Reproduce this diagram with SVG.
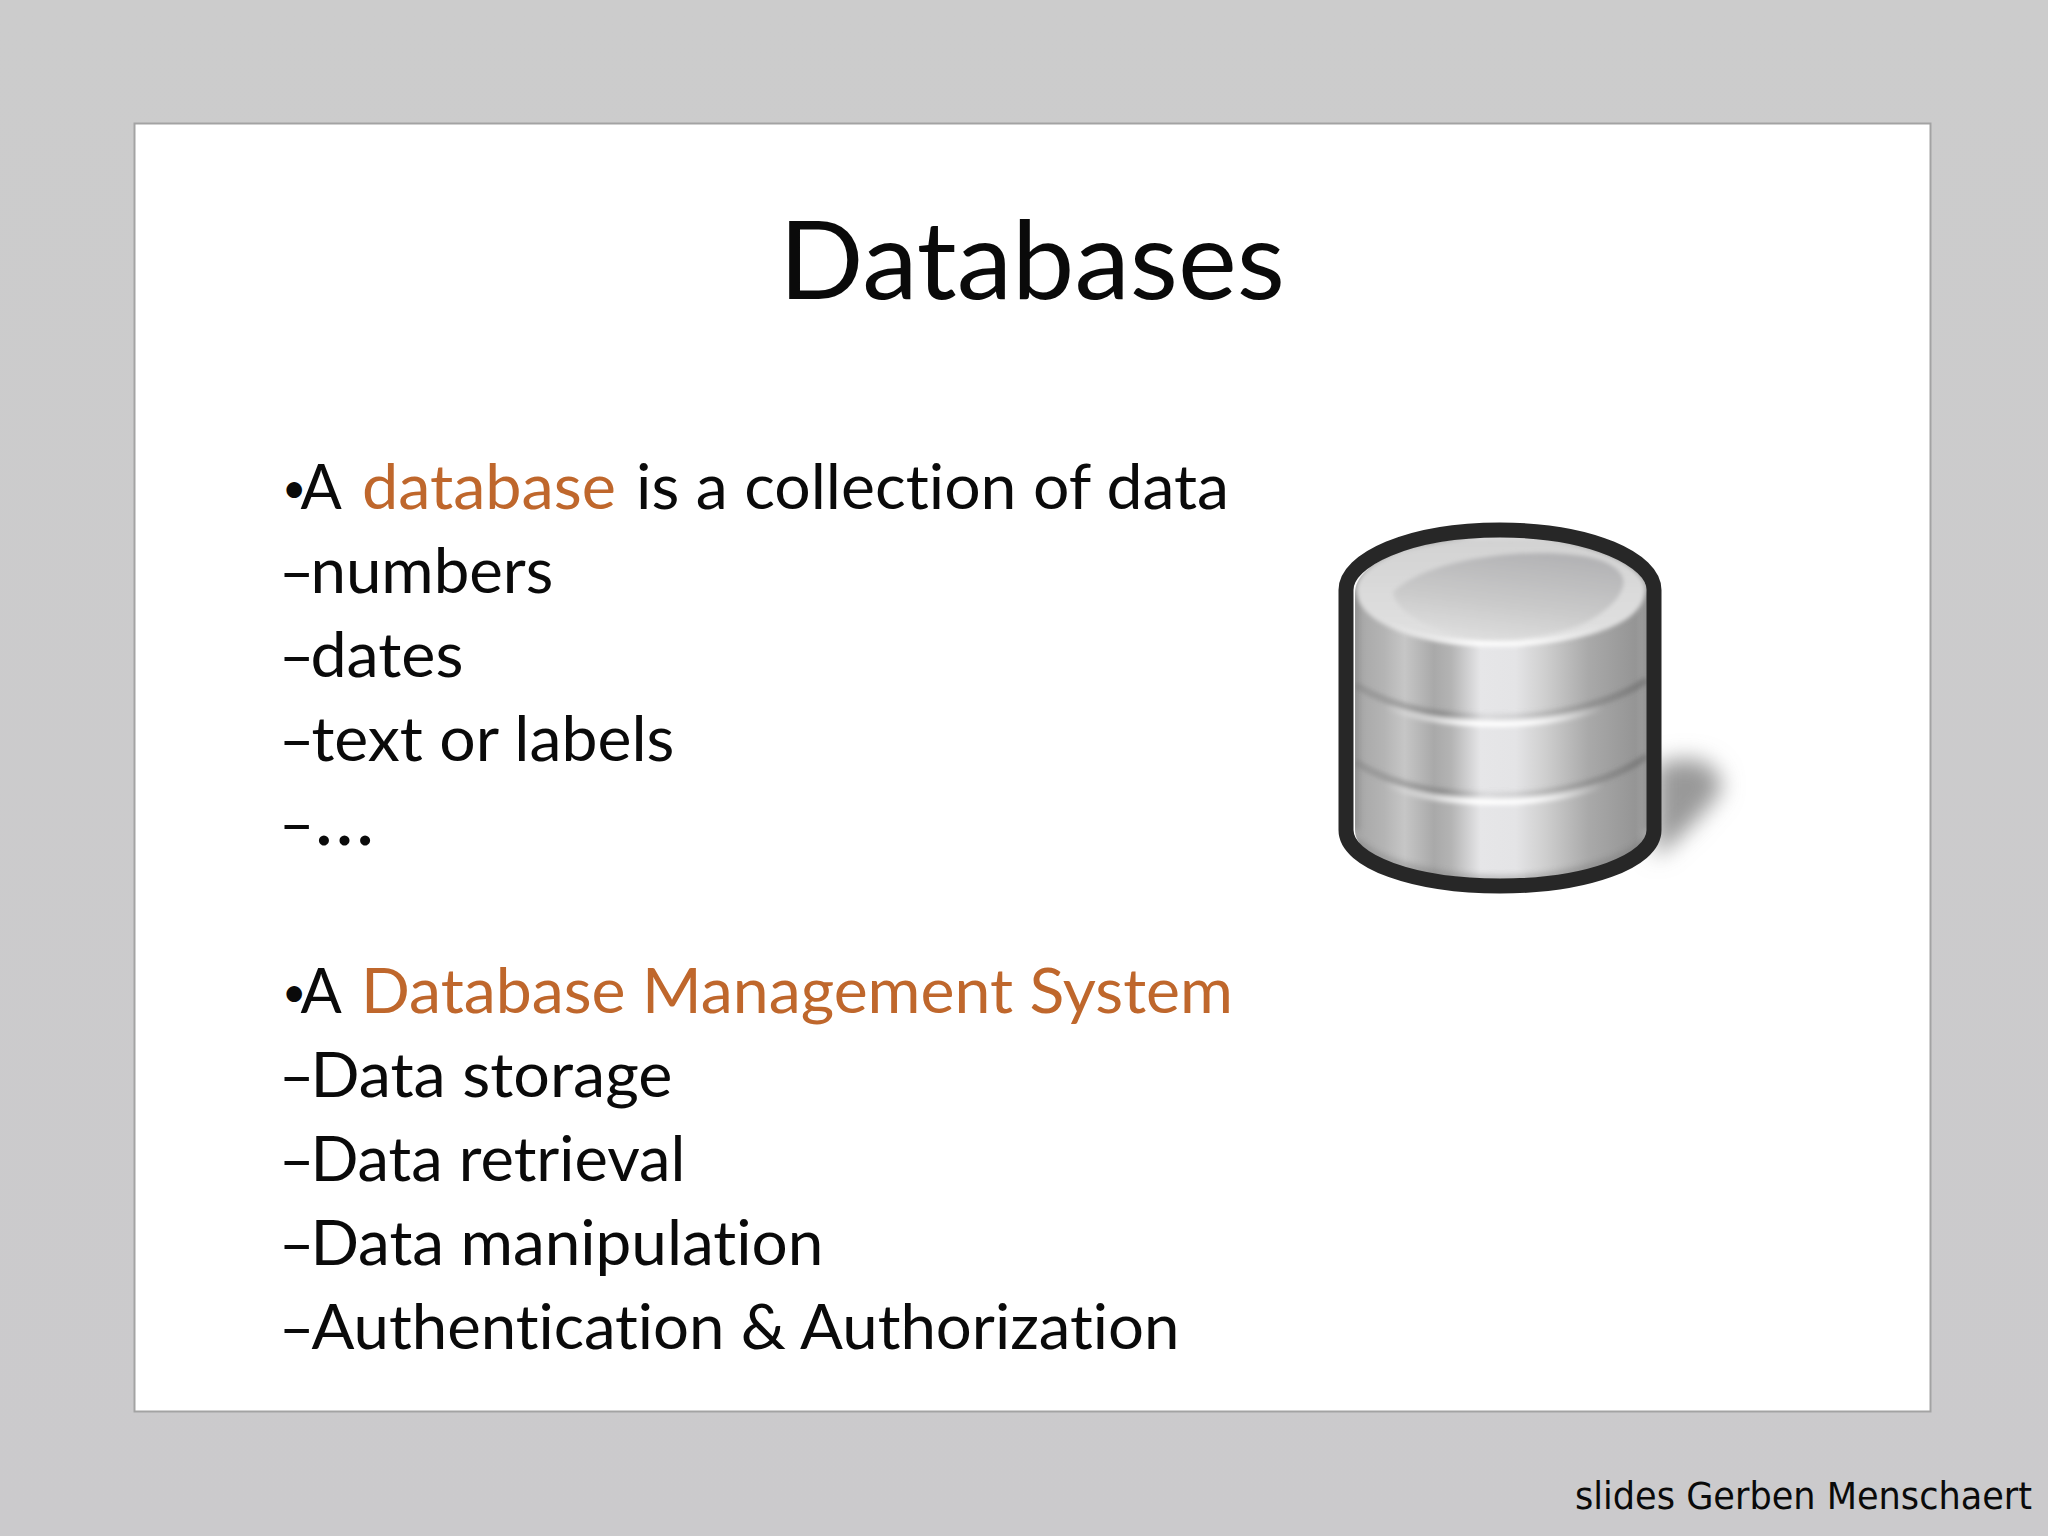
<svg xmlns="http://www.w3.org/2000/svg" width="2048" height="1536" viewBox="0 0 2048 1536">
<defs>
<style>
text{font-family:"Lato","Noto Sans",sans-serif;fill:#0a0a0a;font-variant-ligatures:none}
.b{font-size:61px}
.o{fill:#bf672c}
.p{font-size:42px}
.f{font-family:"DejaVu Sans Condensed","Noto Sans",sans-serif;font-size:37px}
</style>
<linearGradient id="bg" x1="0" y1="0" x2="0" y2="1"><stop offset="0" stop-color="#cccccc"/><stop offset="1" stop-color="#cbcacc"/></linearGradient>
<linearGradient id="side" gradientUnits="userSpaceOnUse" x1="1355" y1="0" x2="1647" y2="0">
<stop offset="0" stop-color="#a6a6a6"/><stop offset=".1" stop-color="#b4b4b4"/><stop offset=".17" stop-color="#c6c6c6"/><stop offset=".27" stop-color="#a9a9a9"/><stop offset=".33" stop-color="#b4b4b4"/><stop offset=".43" stop-color="#e6e6e8"/><stop offset=".55" stop-color="#e4e4e6"/><stop offset=".65" stop-color="#cfcfcf"/><stop offset=".8" stop-color="#a9a9a9"/><stop offset=".96" stop-color="#959595"/><stop offset="1" stop-color="#a8a8a8"/>
</linearGradient>
<linearGradient id="top" x1="0" y1="0" x2="0" y2="1"><stop offset="0" stop-color="#d2d2d2"/><stop offset=".5" stop-color="#dadada"/><stop offset="1" stop-color="#e2e2e2"/></linearGradient>
<linearGradient id="hi" x1=".7" y1="0" x2=".35" y2="1"><stop offset="0" stop-color="#b2b2b4"/><stop offset=".6" stop-color="#cacaca"/><stop offset="1" stop-color="#dedede"/></linearGradient>
<linearGradient id="glow" gradientUnits="userSpaceOnUse" x1="1355" y1="0" x2="1647" y2="0"><stop offset=".1" stop-color="#fff" stop-opacity="0"/><stop offset=".42" stop-color="#fff"/><stop offset=".6" stop-color="#fff" stop-opacity=".9"/><stop offset=".85" stop-color="#fff" stop-opacity="0"/></linearGradient>
<linearGradient id="groove" gradientUnits="userSpaceOnUse" x1="1355" y1="0" x2="1647" y2="0"><stop offset="0" stop-color="#777" stop-opacity=".35"/><stop offset=".3" stop-color="#777" stop-opacity=".5"/><stop offset=".45" stop-color="#999" stop-opacity=".15"/><stop offset=".7" stop-color="#777" stop-opacity=".3"/><stop offset="1" stop-color="#666" stop-opacity=".55"/></linearGradient>
<filter id="b1" x="-50%" y="-50%" width="200%" height="200%"><feGaussianBlur stdDeviation="2"/></filter>
<filter id="b2" x="-50%" y="-50%" width="200%" height="200%"><feGaussianBlur stdDeviation="11"/></filter>
<filter id="b3" x="-50%" y="-50%" width="200%" height="200%"><feGaussianBlur stdDeviation="3"/></filter>
<clipPath id="body"><path d="M1355 593C1355 562 1415 537 1500 537S1647 562 1647 593V830C1647 860 1580 879 1500 879S1355 860 1355 830Z"/></clipPath>
</defs>
<rect width="2048" height="1536" fill="url(#bg)"/>
<rect x="134.500" y="123.500" width="1796" height="1288" fill="#fff" stroke="#a3a3a3" stroke-width="2"/>
<text x="779" y="299" font-size="109" textLength="506" lengthAdjust="spacingAndGlyphs">Databases</text>
<g id="list-database">
<text class="b" x="282" y="509"><tspan class="p" dy="-6">•</tspan><tspan dx="-6" dy="6">A</tspan></text>
<text class="b o" x="362" y="509" textLength="254" lengthAdjust="spacingAndGlyphs">database</text>
<text class="b" x="636" y="509" textLength="593" lengthAdjust="spacingAndGlyphs">is a collection of data</text>
<text class="b" x="279" y="593">–<tspan dx="-4" textLength="243" lengthAdjust="spacingAndGlyphs">numbers</tspan></text>
<text class="b" x="279" y="677">–<tspan dx="-4" textLength="153" lengthAdjust="spacingAndGlyphs">dates</tspan></text>
<text class="b" x="279" y="761">–<tspan dx="-3" textLength="363" lengthAdjust="spacingAndGlyphs">text or labels</tspan></text>
<text class="b" x="279" y="845">–<tspan font-size="80">…</tspan></text>
</g>
<g id="list-dbms">
<text class="b" x="282" y="1013"><tspan class="p" dy="-6">•</tspan><tspan dx="-6" dy="6">A</tspan></text>
<text class="b o" x="361" y="1013" textLength="872" lengthAdjust="spacingAndGlyphs">Database Management System</text>
<text class="b" x="279" y="1097">–<tspan dx="-4" textLength="362" lengthAdjust="spacingAndGlyphs">Data storage</tspan></text>
<text class="b" x="279" y="1181">–<tspan dx="-4" textLength="375" lengthAdjust="spacingAndGlyphs">Data retrieval</tspan></text>
<text class="b" x="279" y="1265">–<tspan dx="-4" textLength="513" lengthAdjust="spacingAndGlyphs">Data manipulation</tspan></text>
<text class="b" x="279" y="1349">–<tspan dx="-3" textLength="868" lengthAdjust="spacingAndGlyphs">Authentication &amp; Authorization</tspan></text>
</g>
<g id="database-icon">
<path d="M1655 765Q1700 750 1716 772Q1728 788 1712 802Q1690 830 1655 858Z" fill="#999" filter="url(#b2)"/>
<g clip-path="url(#body)">
<rect x="1350" y="530" width="302" height="355" fill="url(#side)"/>
<g filter="url(#b1)" fill="none">
<path d="M1355 685C1400 712 1450 717 1500 717S1610 705 1647 680" stroke="url(#groove)" stroke-width="7"/>
<path d="M1355 692C1400 719 1450 724 1500 724S1610 712 1647 687" stroke="url(#glow)" stroke-width="6"/>
<path d="M1355 762C1400 790 1450 795 1500 795S1610 783 1647 756" stroke="url(#groove)" stroke-width="7"/>
<path d="M1355 769C1400 797 1450 802 1500 802S1610 790 1647 763" stroke="url(#glow)" stroke-width="6"/>
</g>
<path d="M1355 840C1375 860 1430 879 1500 879S1625 860 1647 840" fill="none" stroke="#666" stroke-width="6" opacity=".4" filter="url(#b3)"/>
<path d="M1355 593V830M1647 593V830" stroke="#777" stroke-width="8" opacity=".45" filter="url(#b3)"/>
</g>
<path d="M1357 590C1357 562 1418 538 1500 538S1645 562 1645 590C1645 625 1580 645 1500 645S1357 625 1357 590Z" fill="url(#top)" filter="url(#b1)"/>
<path d="M1393 592C1420 565 1490 553 1540 553S1615 562 1622 576C1629 590 1610 612 1580 625C1550 636 1500 642 1470 638C1430 630 1395 612 1393 592Z" fill="url(#hi)" filter="url(#b1)"/>
<path d="M1390 625C1420 640 1460 644 1500 644S1570 638 1600 628" fill="none" stroke="url(#glow)" stroke-width="5" filter="url(#b1)"/>
<path d="M1346 590C1346 560 1408 530 1500 530S1654 560 1654 590V830C1654 862 1585 886 1500 886S1346 862 1346 830Z" fill="none" stroke="#272727" stroke-width="15"/>
</g>
<text class="f" x="1575" y="1509" textLength="457" lengthAdjust="spacingAndGlyphs">slides Gerben Menschaert</text>
</svg>
